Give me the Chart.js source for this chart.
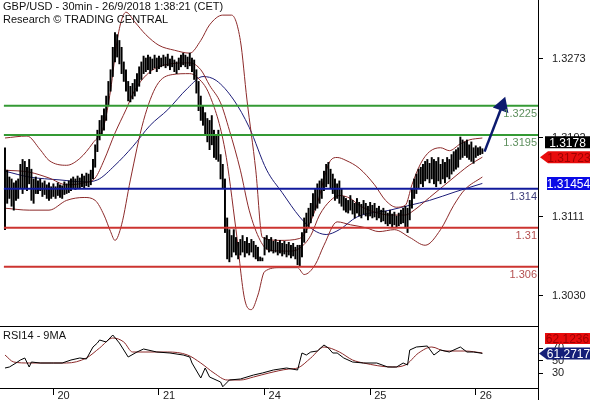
<!DOCTYPE html>
<html lang="en">
<head>
<meta charset="UTF-8">
<title>GBP/USD - 30min</title>
<script src="https://cdn.jsdelivr.net/npm/chart.js"></script>
<style>
    body { margin: 0; background: #fff; }
    #wrap { position: relative; width: 590px; height: 400px; overflow: hidden; background: #fff; }
    #priceChart { position: absolute; left: 0; top: 0; }
    #rsiChart { position: absolute; left: 0; top: 326px; }
</style>
</head>
<body>
<div id="wrap">
    <canvas id="priceChart" width="590" height="326"></canvas>
    <canvas id="rsiChart" width="590" height="74"></canvas>
</div>
<script>
// 30-min bars, one small array per trading day (high / low)
const day19High = [1.3182,1.3159,1.3152,1.3150,1.3146,1.3148,1.3150,1.3165,1.3170,1.3168,1.3162,1.3170,1.3160,1.3150,1.3152,1.3148,1.3150,1.3146,1.3148,1.3144,1.3146,1.3142];
const day19Low  = [1.3098,1.3125,1.3130,1.3122,1.3118,1.3128,1.3130,1.3140,1.3135,1.3140,1.3138,1.3145,1.3128,1.3125,1.3135,1.3135,1.3138,1.3132,1.3134,1.3130,1.3128,1.3130];
const day20High = [1.3145,1.3142,1.3146,1.3144,1.3143,1.3147,1.3145,1.3148,1.3150,1.3152,1.3150,1.3153,1.3151,1.3155,1.3153,1.3156,1.3155,1.3159,1.3170,1.3185,1.3200,1.3210,1.3215,1.3222,1.3235,1.3250,1.3262,1.3285,1.3300,1.3298,1.3292,1.3285,1.3270,1.3262,1.3250,1.3245,1.3248,1.3252,1.3258,1.3265,1.3270,1.3276,1.3274,1.3277,1.3275,1.3273,1.3277,1.3274];
const day20Low  = [1.3132,1.3130,1.3133,1.3131,1.3130,1.3134,1.3135,1.3136,1.3138,1.3140,1.3139,1.3141,1.3140,1.3142,1.3141,1.3143,1.3142,1.3144,1.3150,1.3162,1.3178,1.3190,1.3195,1.3200,1.3210,1.3225,1.3240,1.3255,1.3270,1.3275,1.3268,1.3258,1.3250,1.3240,1.3230,1.3229,1.3232,1.3235,1.3240,1.3245,1.3252,1.3258,1.3260,1.3262,1.3258,1.3262,1.3264,1.3260];
const day21High = [1.3276,1.3274,1.3277,1.3275,1.3278,1.3273,1.3276,1.3272,1.3270,1.3274,1.3277,1.3279,1.3277,1.3275,1.3279,1.3274,1.3272,1.3262,1.3250,1.3235,1.3225,1.3218,1.3212,1.3210,1.3215,1.3200,1.3195,1.3200,1.3175,1.3165,1.3150,1.3110,1.3098,1.3092,1.3098,1.3090,1.3085,1.3088,1.3092,1.3086,1.3090,1.3084,1.3088,1.3086,1.3082,1.3080,1.3070,1.3069];
const day21Low  = [1.3263,1.3265,1.3266,1.3264,1.3266,1.3262,1.3265,1.3260,1.3258,1.3262,1.3265,1.3267,1.3265,1.3263,1.3266,1.3260,1.3252,1.3238,1.3220,1.3210,1.3205,1.3195,1.3188,1.3180,1.3185,1.3172,1.3170,1.3168,1.3150,1.3140,1.3095,1.3068,1.3065,1.3070,1.3075,1.3072,1.3068,1.3072,1.3075,1.3070,1.3074,1.3072,1.3075,1.3070,1.3068,1.3066,1.3066,1.3066];
const day24High = [1.3090,1.3092,1.3088,1.3090,1.3086,1.3088,1.3085,1.3087,1.3084,1.3086,1.3083,1.3085,1.3082,1.3084,1.3080,1.3082,1.3082,1.3095,1.3110,1.3115,1.3120,1.3125,1.3135,1.3140,1.3145,1.3148,1.3150,1.3158,1.3165,1.3167,1.3160,1.3155,1.3150,1.3145,1.3148,1.3140,1.3132,1.3130,1.3128,1.3133,1.3128,1.3125,1.3130,1.3126,1.3124,1.3128,1.3125,1.3122];
const day24Low  = [1.3072,1.3078,1.3075,1.3076,1.3074,1.3075,1.3072,1.3074,1.3071,1.3073,1.3070,1.3072,1.3069,1.3071,1.3068,1.3062,1.3060,1.3070,1.3085,1.3095,1.3100,1.3105,1.3112,1.3118,1.3120,1.3125,1.3130,1.3138,1.3142,1.3145,1.3140,1.3135,1.3128,1.3130,1.3125,1.3122,1.3118,1.3116,1.3115,1.3118,1.3114,1.3110,1.3115,1.3112,1.3110,1.3114,1.3112,1.3108];
const day25High = [1.3126,1.3123,1.3125,1.3120,1.3122,1.3118,1.3120,1.3117,1.3115,1.3118,1.3114,1.3116,1.3112,1.3115,1.3118,1.3120,1.3122,1.3120,1.3128,1.3140,1.3150,1.3155,1.3160,1.3162,1.3165,1.3168,1.3170,1.3166,1.3172,1.3170,1.3168,1.3172,1.3165,1.3170,1.3167,1.3172,1.3170,1.3175,1.3178,1.3180,1.3182,1.3193,1.3190,1.3188,1.3190,1.3185,1.3188,1.3182];
const day25Low  = [1.3112,1.3110,1.3111,1.3108,1.3110,1.3106,1.3107,1.3104,1.3102,1.3104,1.3101,1.3103,1.3100,1.3102,1.3104,1.3105,1.3100,1.3095,1.3108,1.3120,1.3130,1.3135,1.3140,1.3145,1.3142,1.3148,1.3150,1.3146,1.3150,1.3145,1.3142,1.3148,1.3145,1.3150,1.3146,1.3152,1.3150,1.3155,1.3158,1.3160,1.3162,1.3170,1.3172,1.3174,1.3172,1.3170,1.3168,1.3166];
const day26High = [1.3184,1.3182,1.3183,1.3181];
const day26Low  = [1.3172,1.3174,1.3175,1.3176];

// Bollinger bands (20) and blue moving average, sampled at bar indexes
const upperIdx = [0,10,16,20,28,34,40,45,48,51,53,55,59,64,70,77,84,89,93,99,103,107,110,114,117,125,134,141,148,151,155,161,168,173,178,182,185,189,193,198,202,207,211,217];
const upperVal = [1.3192,1.3194,1.3180,1.3169,1.3164,1.3171,1.3187,1.3205,1.3241,1.3292,1.3313,1.3321,1.3311,1.3298,1.3287,1.3282,1.3279,1.3292,1.3308,1.3318,1.3318,1.3292,1.3231,1.3159,1.3090,1.3087,1.3089,1.3118,1.3169,1.3172,1.3169,1.3161,1.3144,1.3128,1.3121,1.3123,1.3144,1.3166,1.3178,1.3182,1.3179,1.3186,1.3190,1.3192];
const midIdx = [0,11,20,28,36,41,45,50,55,59,66,75,84,89,93,98,102,107,111,116,120,130,134,139,143,148,152,157,161,168,175,182,186,193,200,207,211,217];
const midVal = [1.3159,1.3157,1.3151,1.3144,1.3146,1.3151,1.3169,1.3197,1.3221,1.3241,1.3260,1.3268,1.3269,1.3262,1.3246,1.3228,1.3200,1.3159,1.3118,1.3087,1.3077,1.3076,1.3079,1.3092,1.3113,1.3128,1.3133,1.3130,1.3123,1.3116,1.3113,1.3113,1.3118,1.3131,1.3144,1.3157,1.3164,1.31723];
const lowerIdx = [0,11,20,28,36,41,45,48,50,53,57,63,69,76,84,87,93,100,105,109,112,115,118,125,133,136,141,145,151,157,164,170,177,184,191,198,204,209,217];
const lowerVal = [1.3120,1.3118,1.3118,1.3128,1.3131,1.3128,1.3113,1.3096,1.3087,1.3103,1.3149,1.3210,1.3246,1.3257,1.3258,1.3255,1.3236,1.3180,1.3098,1.3026,1.3016,1.3031,1.3055,1.3059,1.3059,1.3052,1.3062,1.3082,1.3106,1.3103,1.3100,1.3096,1.3098,1.3090,1.3082,1.3098,1.3123,1.3139,1.3152];
const maIdx = [0,11,25,36,42,50,58,66,74,83,90,96,104,111,119,126,134,140,146,152,160,175,184,193,205,217];
const maVal = [1.3158,1.3152,1.3149,1.3147,1.3149,1.3164,1.3183,1.3205,1.3221,1.3243,1.3255,1.3251,1.3231,1.3203,1.3159,1.3136,1.3111,1.3098,1.3093,1.3098,1.3111,1.3118,1.3123,1.3128,1.3137,1.31454];

// RSI 14 and its 9-period average
const rsiIdx = [0,2,5,7,9,11,12,16,22,26,30,34,37,40,42,43,46,49,52,56,60,63,69,75,81,84,85,89,91,93,98,99,102,107,113,117,122,128,133,135,137,139,142,145,147,149,151,154,158,163,169,174,178,181,183,184,187,192,195,198,202,207,210,213,216,217];
const rsiVal = [38,39.6,46,50.8,54,39.6,47.6,46,46,46,50.8,54,52.4,71.6,78,82.8,79.6,90.8,78,55.6,63.6,68.4,63.6,62,58.8,55.6,46,22,38,23.6,15.6,8,18.8,20.4,26.8,30,34.8,38,34.8,62,58.8,63.6,65.2,74.8,70,62,62,54,47.6,46,46,39.6,39.6,46,42.8,66.8,71.6,73.2,58.8,66.8,63.6,71.6,63.6,63.6,62,61.27];
const rsiMaIdx = [0,4,11,21,28,37,43,49,54,58,65,74,83,89,95,101,107,113,120,129,133,139,145,152,158,163,176,182,188,194,200,209,217];
const rsiMaVal = [58.8,47.6,46,46,46,54,70,86,79.6,63.6,63.6,63.6,58.8,46,30,18.8,18.8,23.6,30,36.4,38,54,71.6,63.6,50.8,46,39.6,42.8,62,71.6,65.2,65.2,62.12];

// axis ticks and labels
const dayTicks = [22, 70, 118, 166, 214];
const dayLabels = ['20', '21', '24', '25', '26'];
const priceTicks = [1.3030, 1.3111, 1.3192, 1.3273];
const rsiTicks = [30, 50, 70];

// drawn levels
const levelValues = [1.3225, 1.3195, 1.314, 1.31, 1.306];
const levelLabels = ['1.3225', '1.3195', '1.314', '1.31', '1.306'];
const levelColors = ['#349a34', '#349a34', '#101a9c', '#cc3430', '#cc3430'];
const levelTextColors = ['#5d8f5d', '#5d8f5d', '#3c3c78', '#b45050', '#b45050'];

// target arrow
const arrowIdx = [218, 226];
const arrowPrice = [1.3178, 1.3225];

// last values shown in the right-hand tags
const lastClose = 1.3178;
const lastMid = 1.31723;
const lastMa = 1.31454;
const lastRsi = 61.2717;
const lastRsiMa = 62.1236;

const X_MIN = -2.27, X_MAX = 242.3;
const FONT = '"Liberation Sans", Arial, sans-serif';
Chart.defaults.font.family = FONT;
Chart.defaults.font.size = 11;
Chart.defaults.color = '#222';

const barHigh = [].concat(day19High, day20High, day21High, day24High, day25High, day26High);
const barLow = [].concat(day19Low, day20Low, day21Low, day24Low, day25Low, day26Low);
const toPoints = (idx, vals) => idx.map((x, k) => ({ x: x, y: vals[k] }));

const lineSet = (data, color, width, order, smooth) => ({
    type: 'line', data: data, borderColor: color, borderWidth: width,
    pointRadius: 0, cubicInterpolationMode: smooth === false ? 'default' : 'monotone',
    tension: 0, order: order
});

function drawTag(ctx, x, yc, w, h, fill, textColor, text, arrow) {
    ctx.save();
    ctx.fillStyle = fill;
    ctx.beginPath();
    if (arrow) {
        ctx.moveTo(x - 8, yc);
        ctx.lineTo(x, yc - h / 2);
    } else {
        ctx.moveTo(x, yc - h / 2);
    }
    ctx.lineTo(x + w, yc - h / 2);
    ctx.lineTo(x + w, yc + h / 2);
    ctx.lineTo(x, yc + h / 2);
    ctx.closePath();
    ctx.fill();
    ctx.fillStyle = textColor;
    ctx.font = '12px ' + FONT;
    ctx.textAlign = 'center';
    ctx.textBaseline = 'middle';
    ctx.fillText(text, x + w / 2, yc + 1);
    ctx.restore();
}

// no label overflow padding, so the plot fills its panel
const noPad = s => { s.paddingTop = 0; s.paddingBottom = 0; s.paddingLeft = 0; s.paddingRight = 0; };

const rightAxis = (min, max, ticks, fmt) => ({
    position: 'right', min: min, max: max,
    afterFit: s => { s.width = 52; noPad(s); },
    afterBuildTicks: s => { s.ticks = ticks.map(v => ({ value: v })); },
    ticks: { padding: 9, callback: fmt, autoSkip: false },
    grid: { drawOnChartArea: false, tickLength: 5, color: '#000' },
    border: { display: true, color: '#000' }
});

// Main price panel
const pricePlugin = {
    id: 'priceDecor',
    afterDraw(chart) {
        const ctx = chart.ctx, y = chart.scales.y, area = chart.chartArea;
        ctx.save();
        ctx.font = '11px ' + FONT;
        ctx.fillStyle = '#111';
        ctx.textBaseline = 'middle';
        ctx.fillText('GBP/USD - 30min - 26/9/2018 1:38:21 (CET)', 3, 7);
        ctx.fillText('Research \u00A9 TRADING CENTRAL', 3, 20);
        ctx.textAlign = 'right';
        levelValues.forEach((v, k) => {
            ctx.fillStyle = levelTextColors[k];
            ctx.fillText(levelLabels[k], area.right - 1, y.getPixelForValue(v) + 8);
        });
        ctx.restore();
        const midY = y.getPixelForValue(lastMid);
        drawTag(ctx, 548, midY, 42, 12, '#e80c0c', '#a00000', lastMid.toFixed(5), true);
        drawTag(ctx, 545, midY - 15, 45, 12, '#000', '#fff', lastClose.toFixed(4), false);
        drawTag(ctx, 547, y.getPixelForValue(lastMa), 43, 13, '#0a0ae6', '#fff', lastMa.toFixed(5), false);
    }
};

const levelSets = levelValues.map((v, k) => ({
    type: 'line', data: [{ x: -0.5, y: v }, { x: X_MAX, y: v }],
    borderColor: levelColors[k], borderWidth: 2, pointRadius: 0, order: 1
}));

new Chart(document.getElementById('priceChart'), {
    type: 'bar',
    data: {
        datasets: [
            {
                type: 'line', data: toPoints(arrowIdx, arrowPrice),
                borderColor: '#0c1a6e', backgroundColor: '#0c1a6e', borderWidth: 2.5,
                pointRadius: [0, 7], pointStyle: 'triangle', pointRotation: 19,
                clip: false, order: 0
            },
            ...levelSets,
            {
                data: barHigh.map((h, i) => ({ x: i, y: [barLow[i], h] })),
                backgroundColor: '#000', borderWidth: 0, barThickness: 1.3, order: 2
            },
            lineSet(toPoints(upperIdx, upperVal), '#8c2a2a', 1, 3),
            lineSet(toPoints(midIdx, midVal), '#8c2a2a', 1, 3),
            lineSet(toPoints(lowerIdx, lowerVal), '#8c2a2a', 1, 3),
            lineSet(toPoints(maIdx, maVal), '#1c1c78', 1, 3)
        ]
    },
    options: {
        responsive: false, animation: false, devicePixelRatio: 1,
        layout: { padding: 0, autoPadding: false },
        plugins: { legend: { display: false }, tooltip: { enabled: false } },
        scales: {
            x: { type: 'linear', min: X_MIN, max: X_MAX, offset: false, display: false },
            y: rightAxis(1.29992, 1.33335, priceTicks, v => v.toFixed(4))
        }
    },
    plugins: [pricePlugin]
});

// RSI panel
const rsiPlugin = {
    id: 'rsiDecor',
    afterDraw(chart) {
        const ctx = chart.ctx, y = chart.scales.y, area = chart.chartArea;
        ctx.save();
        ctx.strokeStyle = '#000';
        ctx.lineWidth = 1;
        ctx.beginPath();
        ctx.moveTo(0, 0.5); ctx.lineTo(area.right, 0.5);
        ctx.moveTo(area.right + 0.5, area.bottom); ctx.lineTo(area.right + 0.5, chart.height);
        ctx.stroke();
        ctx.font = '11px ' + FONT;
        ctx.fillStyle = '#111';
        ctx.textBaseline = 'middle';
        ctx.fillText('RSI14 - 9MA', 3, 10);
        ctx.restore();
        const rsiY = y.getPixelForValue(lastRsi);
        drawTag(ctx, 547, rsiY, 43, 12, '#141e78', '#fff', lastRsi.toFixed(4), true);
        drawTag(ctx, 545, rsiY - 15, 45, 11, '#e80c0c', '#a00000', lastRsiMa.toFixed(4), false);
    }
};

new Chart(document.getElementById('rsiChart'), {
    type: 'line',
    data: {
        datasets: [
            lineSet(toPoints(rsiIdx, rsiVal), '#000', 1, 0, false),
            lineSet(toPoints(rsiMaIdx, rsiMaVal), '#8c2a2a', 1, 1)
        ]
    },
    options: {
        responsive: false, animation: false, devicePixelRatio: 1,
        layout: { padding: 0, autoPadding: false },
        plugins: { legend: { display: false }, tooltip: { enabled: false } },
        scales: {
            x: {
                type: 'linear', min: X_MIN, max: X_MAX, offset: false,
                afterFit: s => { s.height = 12; noPad(s); },
                afterBuildTicks: s => { s.ticks = dayTicks.map(v => ({ value: v })); },
                ticks: {
                    autoSkip: false, maxRotation: 0, align: 'start', labelOffset: 4, padding: -6,
                    callback: (v, i) => dayLabels[i]
                },
                grid: { drawOnChartArea: false, tickLength: 7, color: '#000' },
                border: { display: true, color: '#000' }
            },
            y: rightAxis(6, 105.2, rsiTicks, v => String(v))
        }
    },
    plugins: [rsiPlugin]
});
</script>
</body>
</html>
